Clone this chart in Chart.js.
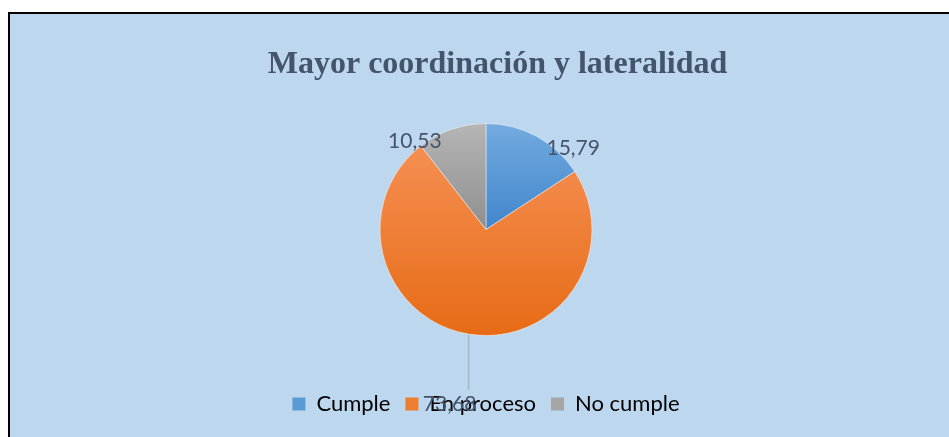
<!DOCTYPE html>
<html>
<head>
<meta charset="utf-8">
<script src="https://cdn.jsdelivr.net/npm/chart.js@4.4.0/dist/chart.umd.min.js"></script>
<style>
  html, body { margin: 0; padding: 0; background: #fff; overflow: hidden; width: 949px; height: 437px; }
  #frame { position: absolute; left: 8px; top: 12px; width: 1000px; height: 500px;
           border-left: 2px solid #000; border-top: 2px solid #000; background: #BDD7EE; }
  #wrap { position: absolute; left: 10px; top: 14px; width: 952px; height: 423px; }
</style>
</head>
<body>
<div id="frame"></div>
<div id="wrap"><canvas id="chart" width="952" height="423"></canvas></div>
<script>
const chartTitle = 'Mayor coordinación y lateralidad'
const categories = ['Cumple', 'En proceso', 'No cumple']
const values = [15.79, 73.68, 10.53]

// Excel style gradient per slice (light at top, darker at bottom)
const topColors = ['#74AAE0', '#F58F52', '#B5B5B5']
const bottomColors = ['#4086CB', '#E76B16', '#8F8F8F']
const legendColors = ['#5B9BD5', '#ED7D31', '#A5A5A5']
const RADIUS = 106

function sliceGradient(context) {
  const chart = context.chart
  const area = chart.chartArea
  const i = context.dataIndex
  if (!area || i === undefined) return legendColors[i || 0]
  const cx = (area.left + area.right) / 2
  const cy = (area.top + area.bottom) / 2
  const total = values.reduce((a, b) => a + b, 0)
  let start = -Math.PI / 2
  for (let k = 0; k < i; k++) start += values[k] / total * Math.PI * 2
  const end = start + values[i] / total * Math.PI * 2
  let minY = cy, maxY = cy
  for (let k = 0; k <= 60; k++) {
    const a = start + (end - start) * k / 60
    const y = cy + RADIUS * Math.sin(a)
    minY = Math.min(minY, y)
    maxY = Math.max(maxY, y)
  }
  const g = chart.ctx.createLinearGradient(0, minY, 0, maxY)
  g.addColorStop(0, topColors[i])
  g.addColorStop(1, bottomColors[i])
  return g
}

// title is centered on the whole Excel frame, which is wider than the window
const shiftTitle = {
  id: 'shiftTitle',
  afterLayout(chart) {
    if (chart.titleBlock) {
      chart.titleBlock.left += 11.5
      chart.titleBlock.right += 11.5
    }
  }
}

const valueLabels = {
  id: 'valueLabels',
  afterDatasetsDraw(chart) {
    const ctx = chart.ctx
    const meta = chart.getDatasetMeta(0)
    ctx.save()
    ctx.font = '21px Lato'
    ctx.fillStyle = '#44546A'
    ctx.textBaseline = 'middle'
    meta.data.forEach((arc, i) => {
      const { x, y, startAngle, endAngle, outerRadius } =
        arc.getProps(['x', 'y', 'startAngle', 'endAngle', 'outerRadius'], true)
      const mid = (startAngle + endAngle) / 2
      const px = x + Math.cos(mid) * outerRadius
      const py = y + Math.sin(mid) * outerRadius
      const text = values[i].toFixed(2).replace('.', ',')
      if (Math.abs(Math.cos(mid)) < 0.3 && Math.sin(mid) > 0) {
        // leader line down to the label
        ctx.strokeStyle = '#A9B4C0'
        ctx.lineWidth = 1.5
        ctx.beginPath()
        ctx.moveTo(px, py + 1)
        ctx.lineTo(px, py + 56)
        ctx.stroke()
        ctx.textAlign = 'center'
        ctx.fillText(text, px - 19, py + 70)
      } else {
        const right = Math.cos(mid) > 0
        ctx.textAlign = right ? 'left' : 'right'
        ctx.fillText(text, px + (right ? 10 : -10), py + 12)
      }
    })
    ctx.restore()
  }
}

new Chart(document.getElementById('chart'), {
  type: 'pie',
  data: {
    labels: categories,
    datasets: [{
      data: values,
      backgroundColor: sliceGradient,
      borderColor: 'rgba(255, 255, 255, 0.45)',
      borderWidth: 1,
      radius: RADIUS
    }]
  },
  options: {
    responsive: false,
    animation: false,
    layout: { padding: { bottom: 12 } },
    plugins: {
      title: {
        display: true,
        text: chartTitle,
        color: '#44546A',
        font: { family: 'Liberation Serif', size: 32, weight: 'bold', lineHeight: 1 },
        padding: { top: 35, bottom: 0 }
      },
      legend: {
        position: 'bottom',
        labels: {
          boxWidth: 13,
          boxHeight: 13,
          padding: 15,
          color: '#44546A',
          font: { family: 'Lato', size: 22 },
          generateLabels(chart) {
            return categories.map((c, i) => ({
              text: c,
              fillStyle: legendColors[i],
              strokeStyle: legendColors[i],
              lineWidth: 0,
              index: i
            }))
          }
        }
      },
      tooltip: { enabled: false }
    }
  },
  plugins: [shiftTitle, valueLabels]
})
</script>
</body>
</html>
